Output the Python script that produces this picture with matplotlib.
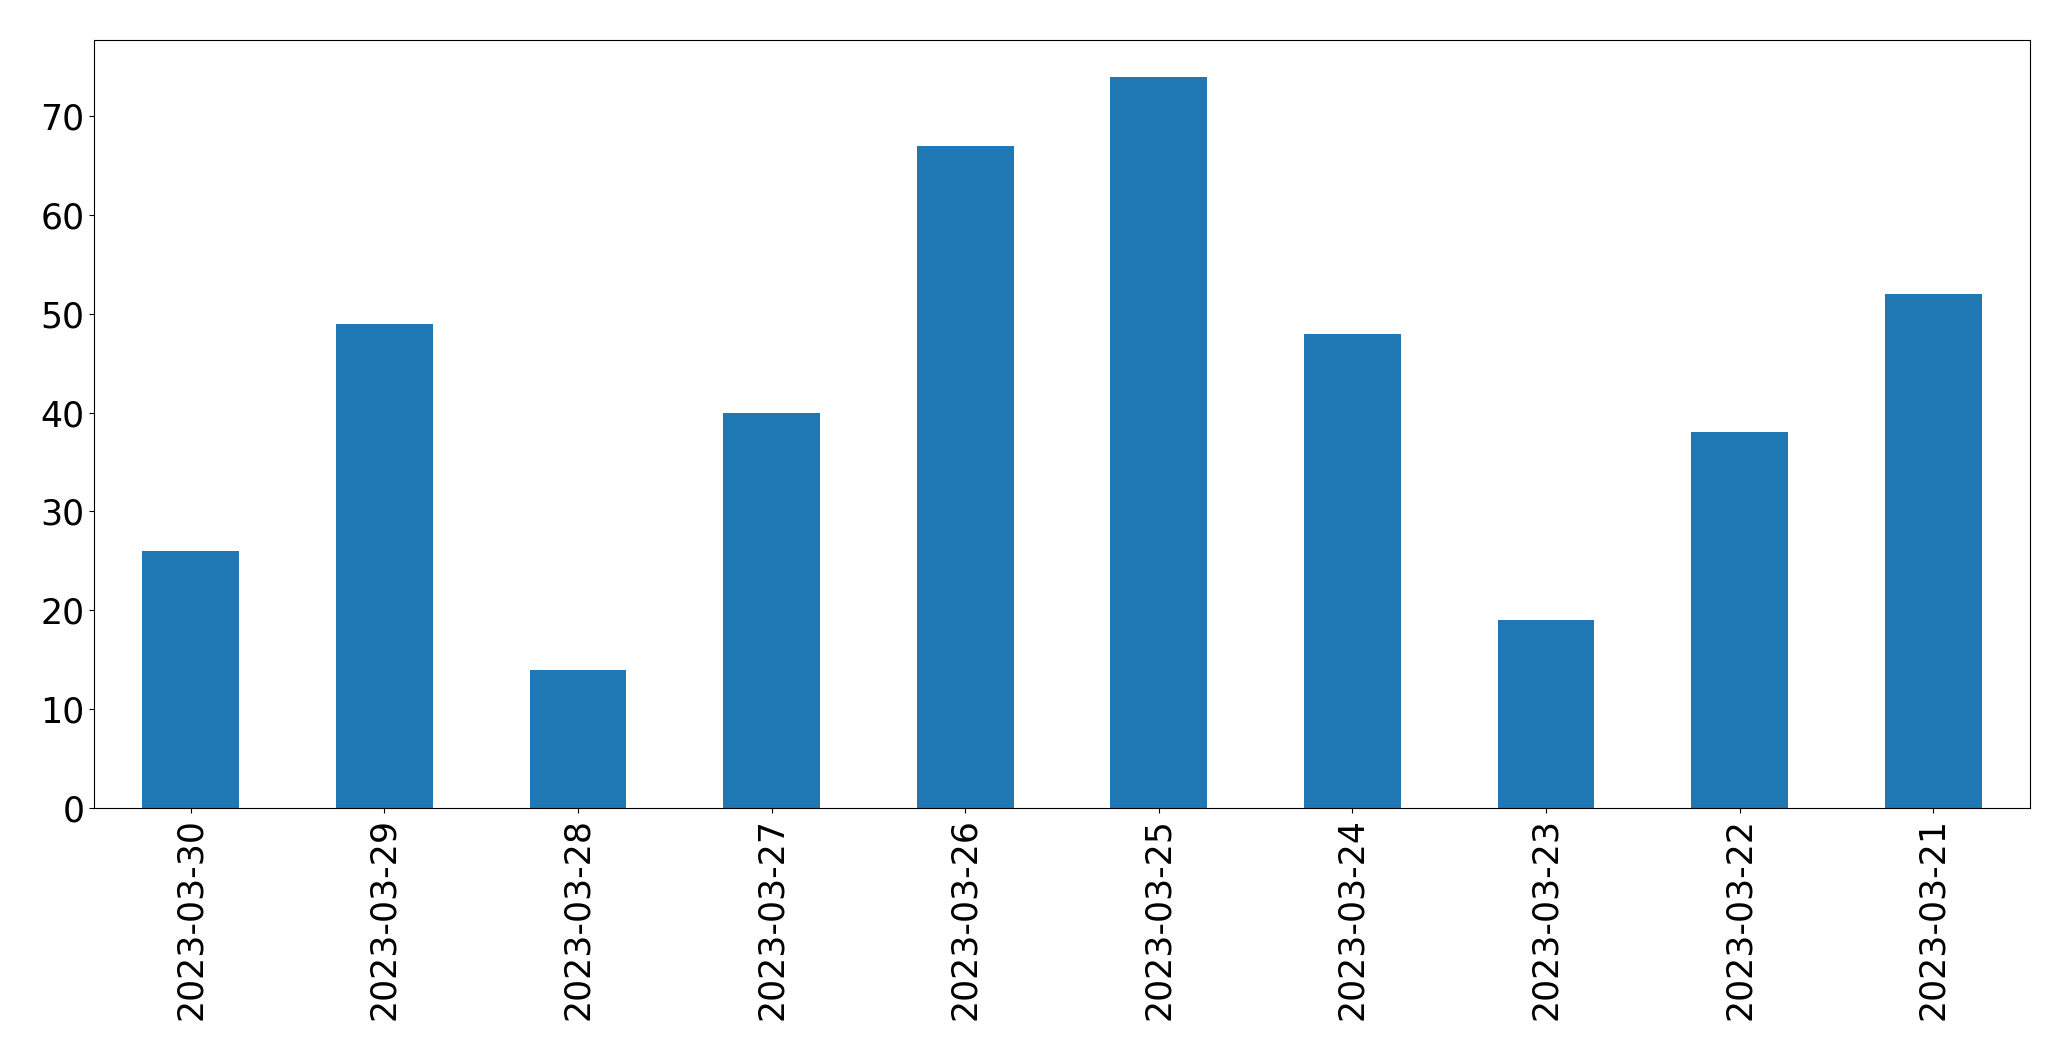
import matplotlib
matplotlib.use("Agg")
import matplotlib.pyplot as plt
import numpy as np

dates = ["2023-03-30", "2023-03-29", "2023-03-28", "2023-03-27", "2023-03-26",
         "2023-03-25", "2023-03-24", "2023-03-23", "2023-03-22", "2023-03-21"]
counts = [26, 49, 14, 40, 67, 74, 48, 19, 38, 52]

fig = plt.figure(figsize=(20.71, 10.61), dpi=100)
ax = fig.add_axes([94/2071, 1-808/1061, (2030-94)/2071, (808-40)/1061])
x = np.arange(len(dates))
ax.bar(x, counts, width=0.5, color="#1f77b4")
ax.set_xlim(-0.5, len(dates) - 0.5)
ax.set_xticks(x)
ax.set_xticklabels(dates, rotation=90)
ax.tick_params(labelsize=25)
fig.savefig("out.png", dpi=100)
